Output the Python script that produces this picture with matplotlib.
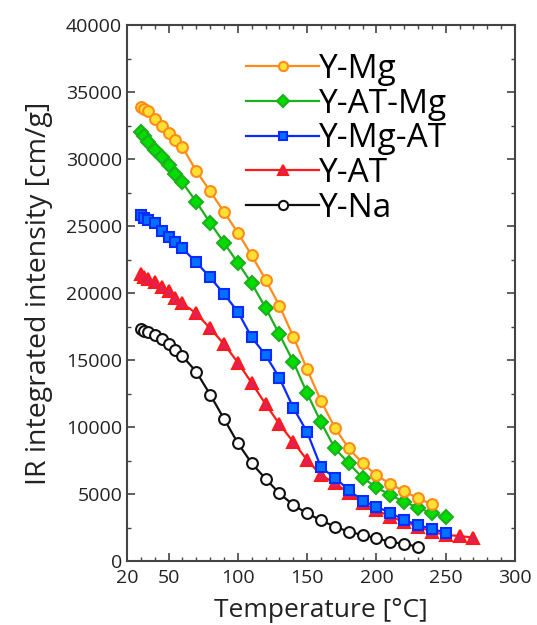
import matplotlib
matplotlib.use('Agg')
import matplotlib.pyplot as plt
from matplotlib.ticker import MultipleLocator

plt.rcParams['font.family'] = ['Open Sans', 'DejaVu Sans']

# temperatures (deg C) for each sample
t_mg = [30, 32, 35, 40, 45, 50, 55, 60, 70, 80, 90, 100, 110, 120, 130, 140,
        150, 160, 170, 180, 190, 200, 210, 220, 230, 240]
t_atmg = [30, 32, 35, 40, 45, 50, 55, 60, 70, 80, 90, 100, 110, 120, 130, 140,
          150, 160, 170, 180, 190, 200, 210, 220, 230, 240, 250]
t_mgat = [30, 32, 35, 40, 45, 50, 55, 60, 70, 80, 90, 100, 110, 120, 130, 140,
          150, 160, 170, 180, 190, 200, 210, 220, 230, 240, 250]
t_at = [30, 32, 35, 40, 45, 50, 55, 60, 70, 80, 90, 100, 110, 120, 130, 140,
        150, 160, 170, 180, 190, 200, 210, 220, 230, 240, 250, 260, 270]
t_na = [30, 32, 35, 40, 45, 50, 55, 60, 70, 80, 90, 100, 110, 120, 130, 140,
        150, 160, 170, 180, 190, 200, 210, 220, 230]

# IR integrated intensity (cm/g)
y_mg = [33900, 33750, 33550, 33000, 32450, 31950, 31400, 30900, 29100, 27600,
        26050, 24500, 22800, 21000, 19050, 16750, 14300, 11950, 9950, 8400,
        7300, 6400, 5750, 5200, 4680, 4230]
y_atmg = [32050, 31700, 31250, 30700, 30160, 29540, 28870, 28250, 26800, 25240,
          23750, 22250, 20720, 18900, 16910, 14870, 12510, 10350, 8410, 7290,
          6210, 5500, 4920, 4420, 3980, 3560, 3260]
y_mgat = [25850, 25600, 25440, 25190, 24630, 24170, 23780, 23330, 22290, 21160,
          19930, 18600, 16690, 15370, 13670, 11440, 9620, 6990, 6210, 5300,
          4500, 4050, 3600, 3060, 2690, 2390, 2110]
y_at = [21450, 21200, 21040, 20840, 20460, 20140, 19600, 19220, 18480, 17360,
        16190, 14810, 13290, 11710, 10220, 8880, 7530, 6420, 5800, 5100,
        4300, 3800, 3300, 2930, 2560, 2190, 1940, 1870, 1740]
y_na = [17280, 17200, 17080, 16860, 16600, 16190, 15780, 15290, 14120, 12420,
        10610, 8800, 7290, 6140, 5050, 4180, 3560, 3030, 2560, 2190,
        1940, 1690, 1440, 1270, 1070]

fig = plt.figure(figsize=(5.37, 6.25), dpi=100)
ax = fig.add_axes([0.2365, 0.1024, 0.7225, 0.8576])

lw = 1.6
ms = 7.8
mew = 1.5
ax.plot(t_mg, y_mg, '-o', color='#FF8C1A', mfc='#FFE033', mec='#FF8C1A',
        lw=lw, ms=ms, mew=mew, label='Y-Mg', zorder=6)
ax.plot(t_atmg, y_atmg, '-D', color='#1DAF1D', mfc='#00DD00', mec='#1DAF1D',
        lw=lw, ms=ms - 0.8, mew=mew, label='Y-AT-Mg', zorder=5)
ax.plot(t_mgat, y_mgat, '-s', color='#0A2BFF', mfc='#0070FF', mec='#0A2BFF',
        lw=lw, ms=ms - 0.5, mew=mew, label='Y-Mg-AT', zorder=4)
ax.plot(t_at, y_at, '-^', color='#FF1A1A', mfc='#E0205A', mec='#FF1A1A',
        lw=lw, ms=ms + 0.5, mew=mew, label='Y-AT', zorder=3)
ax.plot(t_na, y_na, '-o', color='#111111', mfc='white', mec='#111111',
        lw=lw, ms=ms, mew=mew, label='Y-Na', zorder=2)

ax.set_xlim(20, 300)
ax.set_ylim(0, 40000)
ax.set_xticks([20, 50, 100, 150, 200, 250, 300])
ax.xaxis.set_minor_locator(MultipleLocator(10))
ax.yaxis.set_major_locator(MultipleLocator(5000))
ax.yaxis.set_minor_locator(MultipleLocator(2500))
ax.tick_params(which='both', direction='in', top=True, right=True,
               colors='#444444', labelcolor='#222222', labelsize=14)
ax.tick_params(which='major', length=6, width=1.2)
ax.tick_params(which='minor', length=3, width=1.0)
ax.tick_params(axis='x', which='major', pad=6)
for s in ax.spines.values():
    s.set_color('#444444')
    s.set_linewidth(1.5)

ax.set_xlabel('Temperature [°C]', fontsize=19, color='#222222', labelpad=8)
ax.set_ylabel('IR integrated intensity [cm/g]', fontsize=20.5,
              color='#222222', labelpad=9)

ax.legend(loc='upper left', bbox_to_anchor=(0.307, 0.948), frameon=False,
          fontsize=24, handlelength=2.2, handletextpad=0.0, labelspacing=0.05,
          borderpad=0, borderaxespad=0, markerscale=0.85)

plt.savefig('out.png', dpi=100)
